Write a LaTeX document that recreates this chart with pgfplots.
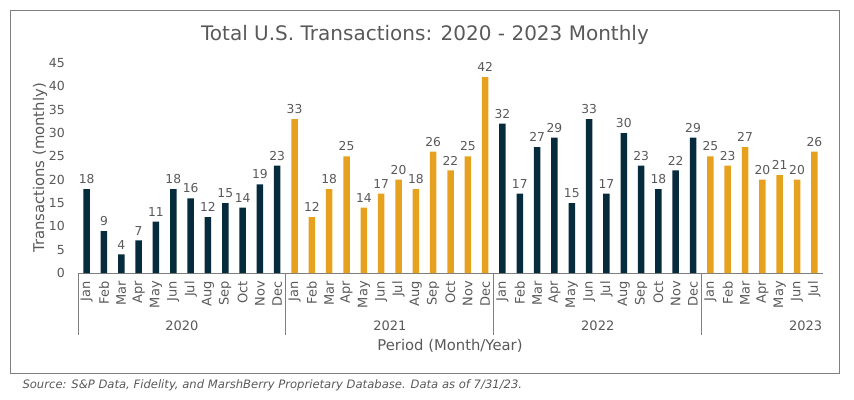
\documentclass[border=0pt]{standalone}
\usepackage{pgfplots}
\pgfplotsset{compat=1.18}
\usepackage{fontspec}
\setmainfont{DejaVu Sans}
\definecolor{navy}{HTML}{062B3C}
\definecolor{gold}{HTML}{E6A11F}
\definecolor{txt}{HTML}{595959}
\definecolor{framec}{HTML}{7F7F7F}
\pgfplotsset{/pgf/number format/assume math mode=true}
\begin{document}
\begin{tikzpicture}[x=1pt,y=1pt]
\useasboundingbox (0,0) rectangle (854,399);
\draw[framec, line width=1pt] (10,26) rectangle (839,388);
\node[text=txt, font=\fontsize{20}{24}\selectfont] at (425,364) {Total U.S. Transactions: 2020 - 2023 Monthly};
\node[anchor=west, text=txt, font=\itshape\fontsize{11.6}{13}\selectfont] at (19,14) {Source: S\&P Data, Fidelity, and MarshBerry Proprietary Database. Data as of 7/31/23.};
\begin{axis}[
  at={(78pt,126pt)}, anchor=south west,
  scale only axis, width=745pt, height=210pt,
  xmin=-0.5, xmax=42.5, ymin=0, ymax=45,
  clip=false,
  axis x line*=bottom, axis y line*=left,
  y axis line style={draw=none},
  x axis line style={framec, line width=0.9pt},
  ytick={0,5,...,45},
  major tick length=0pt,
  ytick style={draw=none}, xtick style={draw=none},
  xtick={0,...,42},
  xticklabels={Jan,Feb,Mar,Apr,May,Jun,Jul,Aug,Sep,Oct,Nov,Dec,Jan,Feb,Mar,Apr,May,Jun,Jul,Aug,Sep,Oct,Nov,Dec,Jan,Feb,Mar,Apr,May,Jun,Jul,Aug,Sep,Oct,Nov,Dec,Jan,Feb,Mar,Apr,May,Jun,Jul},
  xticklabel style={rotate=90, anchor=east, inner sep=0pt, xshift=-8pt, font=\fontsize{13}{15}\selectfont, text=txt},
  yticklabel style={anchor=east, inner sep=0pt, xshift=-13pt, font=\fontsize{12.5}{14}\selectfont, text=txt},
  ybar, bar width=6.5pt, bar shift=0pt,
  nodes near coords,
  nodes near coords style={font=\fontsize{12.3}{14}\selectfont, text=txt, inner sep=2pt, yshift=3pt},
]
\addplot[fill=navy, draw=none] coordinates {
(0,18) (1,9) (2,4) (3,7) (4,11) (5,18) (6,16) (7,12) (8,15) (9,14) (10,19) (11,23)
(24,32) (25,17) (26,27) (27,29) (28,15) (29,33) (30,17) (31,30) (32,23) (33,18) (34,22) (35,29)};
\addplot[fill=gold, draw=none] coordinates {
(12,33) (13,12) (14,18) (15,25) (16,14) (17,17) (18,20) (19,18) (20,26) (21,22) (22,25) (23,42)
(36,25) (37,23) (38,27) (39,20) (40,21) (41,20) (42,26)};
\foreach \s in {-0.5,11.5,23.5,35.5} {
  \edef\tmp{\noexpand\draw[framec, line width=0.9pt] (axis cs:\s,0) -- ++(0pt,-62pt);}
  \tmp
}
\node[text=txt, font=\fontsize{13}{15}\selectfont] at (axis cs:5.5,0) [yshift=-53pt] {2020};
\node[text=txt, font=\fontsize{13}{15}\selectfont] at (axis cs:17.5,0) [yshift=-53pt] {2021};
\node[text=txt, font=\fontsize{13}{15}\selectfont] at (axis cs:29.5,0) [yshift=-53pt] {2022};
\node[text=txt, font=\fontsize{13}{15}\selectfont] at (axis cs:41.5,0) [yshift=-53pt] {2023};
\end{axis}
\node[text=txt, font=\fontsize{14.8}{17}\selectfont] at (450,53) {Period (Month/Year)};
\node[text=txt, rotate=90, font=\fontsize{14.8}{17}\selectfont] at (40,231) {Transactions (monthly)};
\end{tikzpicture}
\end{document}
